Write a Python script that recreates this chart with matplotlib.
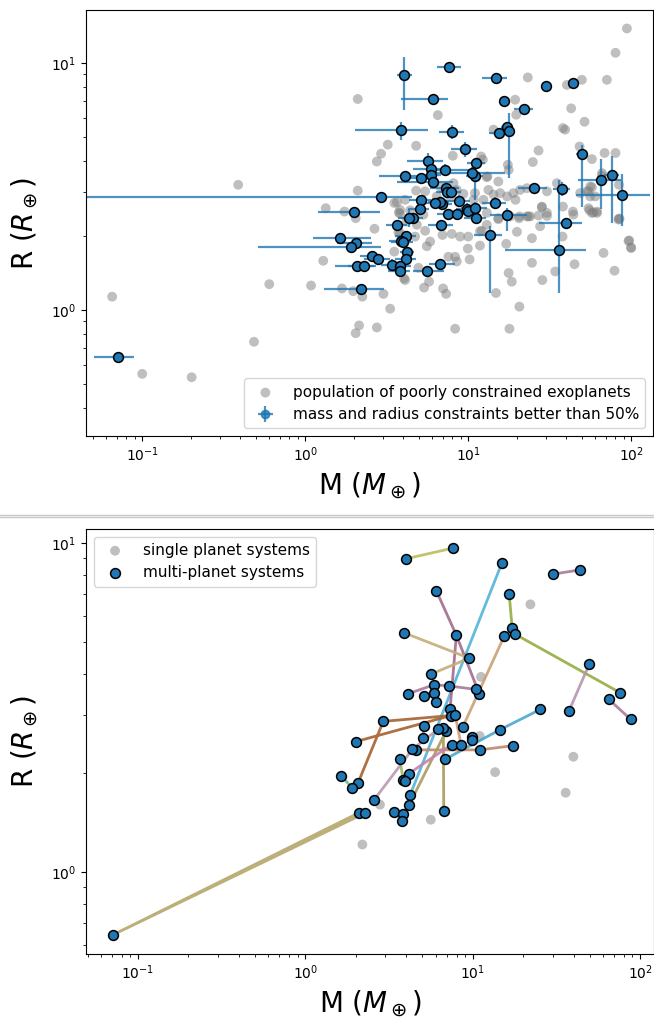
import numpy as np
import matplotlib.pyplot as plt
from matplotlib.lines import Line2D

# poorly constrained population (M in Earth masses, R in Earth radii)
pop_mass = [0.388, 0.0654, 0.602, 0.485, 0.1, 0.201,
            1.086, 1.29, 1.336, 1.74, 2.04, 2.1, 1.68, 1.97, 2.24, 2.14, 2.04, 2.75, 3.02, 3.32,
            2.66, 3.52, 3.75, 3.52, 4.04, 5.36, 5.75, 7.01, 7.32, 5.44, 6.95, 7.93, 8.92, 7.56,
            8.31, 8.51, 9.94, 10.2, 11.8, 17.1, 17.7, 18.5, 19.9, 20.6, 24.6, 24.6, 28.5, 34.2,
            44.9, 67.6, 79.0, 96.3, 99.6, 43.9, 38.1, 37.9, 28.3, 30.4, 27.6, 54.7, 57.4, 61.6, 84.8,
            2.1, 6.51, 23.2, 94.1, 80.1, 70.9, 49.8, 40.3, 42.8, 51.7, 38.1, 39.3, 19.4, 19.7, 14.3,
            3.21, 2.92, 2.75, 4.79, 8.04, 12.3, 17.5, 17.7, 27.0, 24.9, 48.2, 57.4, 68.6, 80.1,
            66.1, 84.1, 56.0, 54.7, 56.0, 30.4, 28.3, 30.4, 24.0, 22.9, 20.6, 18.9, 20.8, 22.9,
            19.5, 17.3, 15.7, 13.3, 13.1, 15.3, 11.0, 10.8, 12.4, 14.3, 13.0, 15.3, 18.1, 4.79,
            5.44, 3.65, 3.82, 5.31, 6.41, 6.72, 8.11, 8.51, 9.34, 7.74, 12.0, 13.0, 4.1, 4.4, 3.82,
            3.73, 4.84, 4.72, 15.3, 13.0, 11.8, 20.5, 23.4, 27.0, 35.0, 53.5, 84.1, 14.8, 8.31,
            17.9, 10.0, 12.1, 4.2, 3.82, 5.57, 5.84, 4.95, 4.1,
            66.2, 57.4, 60.1, 55.5, 58.7, 61.6, 44.2, 48.6, 83.6, 97.2, 100.0]
pop_radius = [3.21, 1.13, 1.27, 0.742, 0.55, 0.533,
              1.254, 1.58, 2.58, 2.50, 2.35, 3.04, 1.22, 1.19, 1.13, 0.864, 0.804, 0.848, 1.16, 1.01,
              2.13, 2.71, 2.48, 1.72, 1.34, 1.23, 1.30, 1.22, 1.16, 2.09, 2.01, 2.03, 1.98, 1.64,
              1.64, 1.57, 1.77, 1.60, 1.82, 1.85, 1.41, 1.30, 2.07, 1.03, 1.95, 1.55, 1.32, 1.43,
              1.53, 1.70, 1.44, 1.90, 1.79, 2.50, 2.62, 1.98, 2.60, 2.40, 2.18, 2.58, 2.47, 2.50, 2.34,
              7.15, 6.15, 8.74, 13.8, 11.0, 8.55, 8.55, 8.15, 6.55, 5.78, 5.45, 5.37, 7.1, 6.17, 5.37,
              4.67, 4.29, 3.99, 4.62, 4.21, 4.06, 3.87, 3.69, 4.42, 3.97, 4.59, 4.08, 4.32, 4.32,
              3.50, 3.21, 3.16, 3.02, 2.88, 3.02, 2.62, 2.47, 2.39, 2.39, 2.39, 2.97, 3.06, 3.11,
              2.79, 2.88, 2.97, 3.06, 3.47, 3.31, 2.97, 2.79, 2.79, 2.93, 2.47, 2.35, 2.39, 3.04,
              3.02, 2.73, 2.54, 2.43, 2.88, 3.16, 3.26, 3.06, 2.95, 2.88, 4.18, 3.45, 2.79, 2.53, 2.45,
              2.05, 2.21, 1.98, 2.33, 2.21, 2.08, 2.35, 2.39, 2.41, 3.26, 3.02, 2.34, 1.17, 0.838,
              0.838, 1.98, 2.09, 2.28, 2.05, 1.81, 1.89, 1.48, 1.32,
              3.58, 3.14, 2.88, 2.53, 2.48, 2.47, 2.43, 2.97, 2.32, 1.91, 1.78]

# planets with mass and radius known better than 50%
mass = [0.0707, 2.08, 2.28, 4.01, 7.60, 14.9, 4.22, 30.1, 43.7, 6.06,
        7.98, 10.95, 7.32, 16.5, 17.2, 17.9, 75.8, 3.89, 9.54, 5.64,
        15.4, 8.72, 49.7, 37.6, 64.9, 87.9, 25.3, 14.6, 6.83, 5.87,
        7.19, 4.09, 10.5, 2.92, 2.00, 7.42, 2.06, 7.84, 1.63, 1.91,
        4.57, 11.1, 17.3, 4.17, 6.93, 6.71, 6.67, 2.56, 4.36, 6.23,
        4.15, 7.49, 3.40, 3.83, 3.80, 3.66, 3.85, 3.96, 5.12, 5.03,
        9.86, 9.95, 5.12, 5.87, 6.06, 8.51,
        22.1, 11.2, 11.0, 39.9, 13.6, 35.9, 2.79, 5.61, 2.19]
mass_err_lo = [0.02, 0.55, 0.45, 0.35, 1.2, 2.8, 0.4, 1.5, 2.5, 2.2,
               1.4, 1.2, 1.5, 1.0, 1.2, 1.0, 8.0, 1.86, 1.7, 1.4,
               2.0, 1.5, 4.0, 4.5, 18.0, 42.0, 5.0, 2.5, 1.2, 1.3,
               1.5, 1.24, 4.4, 2.88, 0.8, 1.1, 0.5, 1.2, 0.52, 1.4,
               0.7, 1.7, 3.7, 0.6, 1.0, 1.0, 1.0, 0.4, 0.65, 0.9,
               0.6, 1.1, 0.5, 0.6, 0.6, 0.55, 0.6, 0.6, 0.8, 0.75,
               1.5, 1.5, 0.8, 0.9, 2.4, 1.3,
               3.0, 1.4, 2.0, 12.9, 2.8, 19.0, 0.5, 1.0, 0.89]
mass_err_hi = [0.018, 0.55, 0.45, 0.5, 1.4, 2.4, 0.4, 1.5, 2.5, 1.5,
               1.4, 1.3, 1.5, 1.0, 1.2, 1.0, 8.0, 1.77, 1.7, 1.4,
               2.0, 1.5, 4.0, 4.6, 22.0, 42.0, 5.0, 2.5, 1.2, 1.3,
               3.5, 1.19, 6.3, 1.6, 0.87, 1.1, 0.5, 1.2, 0.92, 1.0,
               0.7, 1.7, 5.6, 0.6, 1.0, 1.6, 1.0, 0.4, 0.65, 0.9,
               0.6, 1.1, 0.5, 0.6, 0.6, 0.55, 0.6, 0.6, 0.8, 0.75,
               1.5, 1.5, 0.8, 0.9, 2.0, 1.3,
               3.0, 1.4, 2.0, 9.9, 2.5, 17.0, 0.5, 1.5, 0.86]
radius = [0.642, 1.51, 1.51, 8.98, 9.67, 8.69, 1.71, 8.06, 8.30, 7.17,
          5.25, 3.48, 3.13, 7.01, 5.51, 5.29, 3.51, 5.34, 4.47, 4.00,
          5.21, 2.76, 4.29, 3.09, 3.35, 2.91, 3.12, 2.71, 2.20, 3.71,
          3.68, 3.48, 3.59, 2.87, 2.49, 2.99, 1.86, 3.01, 1.96, 1.80,
          2.35, 2.35, 2.42, 1.60, 2.68, 1.53, 2.73, 1.65, 2.36, 2.72,
          1.99, 2.44, 1.52, 1.50, 1.43, 2.20, 1.90, 1.89, 2.78, 2.55,
          2.57, 2.51, 3.43, 3.51, 3.29, 2.44,
          6.52, 3.92, 2.59, 2.24, 2.01, 1.74, 1.60, 1.44, 1.21]
radius_err_lo = [0.02, 0.05, 0.05, 2.5, 0.3, 0.25, 0.06, 0.25, 0.35, 0.2,
                 0.35, 0.7, 0.15, 0.2, 0.2, 1.88, 1.26, 0.45, 0.3, 0.3,
                 0.2, 0.15, 1.67, 0.2, 0.78, 0.72, 0.15, 0.15, 0.1, 0.2,
                 0.2, 0.15, 0.2, 0.1, 0.1, 0.15, 0.08, 0.15, 0.08, 0.08,
                 0.12, 0.12, 0.34, 0.08, 0.13, 0.08, 0.13, 0.08, 0.2, 0.13,
                 0.1, 0.12, 0.08, 0.08, 0.07, 0.11, 0.1, 0.1, 0.14, 0.13,
                 0.13, 0.13, 0.17, 0.17, 0.15, 0.12,
                 0.3, 0.2, 0.15, 0.1, 0.84, 0.57, 0.07, 0.05, 0.05]
radius_err_hi = [0.02, 0.05, 0.05, 1.6, 0.3, 0.25, 0.06, 0.25, 0.35, 0.2,
                 0.35, 0.1, 0.15, 0.2, 0.2, 0.97, 0.69, 0.45, 0.3, 0.3,
                 0.2, 0.15, 0.37, 0.2, 0.74, 0.65, 0.15, 0.15, 0.1, 0.2,
                 0.2, 0.15, 0.2, 0.1, 0.1, 0.15, 0.08, 0.15, 0.08, 0.08,
                 0.12, 0.12, 0.16, 0.08, 0.13, 0.08, 0.13, 0.08, 0.2, 0.13,
                 0.1, 0.12, 0.08, 0.08, 0.07, 0.11, 0.1, 0.1, 0.14, 0.13,
                 0.13, 0.13, 0.17, 0.17, 0.15, 0.12,
                 0.3, 0.2, 0.15, 0.1, 0.17, 1.63, 0.07, 0.05, 0.05]

# planets of the same system, in the order they are joined, and the line colour
systems = [
    ([1, 0, 2], '#b5a76c'),
    ([3, 4], '#bcbd5c'),
    ([5, 6], '#52b3d9'),
    ([7, 8], '#a77c97'),
    ([11, 10, 9], '#a26c8c'),
    ([10, 12], '#a26c8c'),
    ([13, 14, 15, 16], '#93ad40'),
    ([17, 18, 19], '#c4ad78'),
    ([20, 21], '#c9a076'),
    ([22, 23], '#b496b1'),
    ([24, 25], '#a87c98'),
    ([26, 27, 28], '#4aa6d3'),
    ([31, 29, 30, 32], '#a87a9b'),
    ([36, 33, 35, 34], '#a5622f'),
    ([37, 65], '#c8a080'),
    ([38, 39], '#66c28f'),
    ([40, 41, 42], '#c08a6a'),
    ([43, 44, 46, 45], '#a99b5b'),
    ([47, 48, 49], '#b99ab6'),
    ([50, 51], '#c880b5'),
    ([52, 53, 54], '#c0a070'),
    ([55, 56, 57], '#9cb86a'),
    ([58, 59], '#d09060'),
    ([60, 61], '#8cb0d0'),
    ([62, 63, 64], '#a07090'),
]

mass = np.array(mass)
radius = np.array(radius)
in_multi = np.zeros(len(mass), dtype=bool)
for path, col in systems:
    in_multi[path] = True

fig = plt.figure(figsize=(6.54, 10.21), dpi=100)
W, H = 654.0, 1021.0
ax1 = fig.add_axes([86 / W, 1 - 436 / H, 567 / W, 426 / H])
ax2 = fig.add_axes([86 / W, 1 - 954 / H, 568 / W, 425 / H])

# ---- top: whole population ----
ax1.scatter(pop_mass, pop_radius, s=50, color='gray', alpha=0.5, edgecolors='none',
            label='population of poorly constrained exoplanets')
ax1.errorbar(mass, radius, xerr=[mass_err_lo, mass_err_hi], yerr=[radius_err_lo, radius_err_hi],
             fmt='o', color='C0', ms=6, elinewidth=1.6, alpha=0.8,
             label='mass and radius constraints better than 50%')
ax1.scatter(mass, radius, s=50, color='C0', edgecolors='k', linewidths=1.1, zorder=3)
ax1.set_xscale('log')
ax1.set_yscale('log')
ax1.set_xlim(0.0452, 136)
ax1.set_ylim(0.308, 16.4)
ax1.set_xlabel(r'M ($M_\oplus$)', fontsize=20)
ax1.set_ylabel(r'R ($R_\oplus$)', fontsize=20, labelpad=8)
ax1.legend(loc='lower right', fontsize=11)

# ---- bottom: single vs multi-planet systems ----
ax2.scatter(mass[~in_multi], radius[~in_multi], s=50, color='gray', alpha=0.5,
            edgecolors='none', label='single planet systems')
for path, col in systems:
    ax2.plot(mass[path], radius[path], '-', color=col, lw=2, alpha=0.9, zorder=2)
ax2.scatter(mass[in_multi], radius[in_multi], s=50, color='C0', edgecolors='k',
            linewidths=1.1, zorder=3, label='multi-planet systems')
ax2.set_xscale('log')
ax2.set_yscale('log')
ax2.set_xlim(0.0489, 121)
ax2.set_ylim(0.5615, 11.06)
ax2.set_xlabel(r'M ($M_\oplus$)', fontsize=20)
ax2.set_ylabel(r'R ($R_\oplus$)', fontsize=20, labelpad=8)
ax2.legend(loc='upper left', fontsize=11)

# separator between the two panels
for yy in (515, 517):
    fig.add_artist(Line2D([0, 1], [1 - yy / H] * 2, color='#c8c8c8', lw=1))

fig.savefig('out.png', dpi=100)
